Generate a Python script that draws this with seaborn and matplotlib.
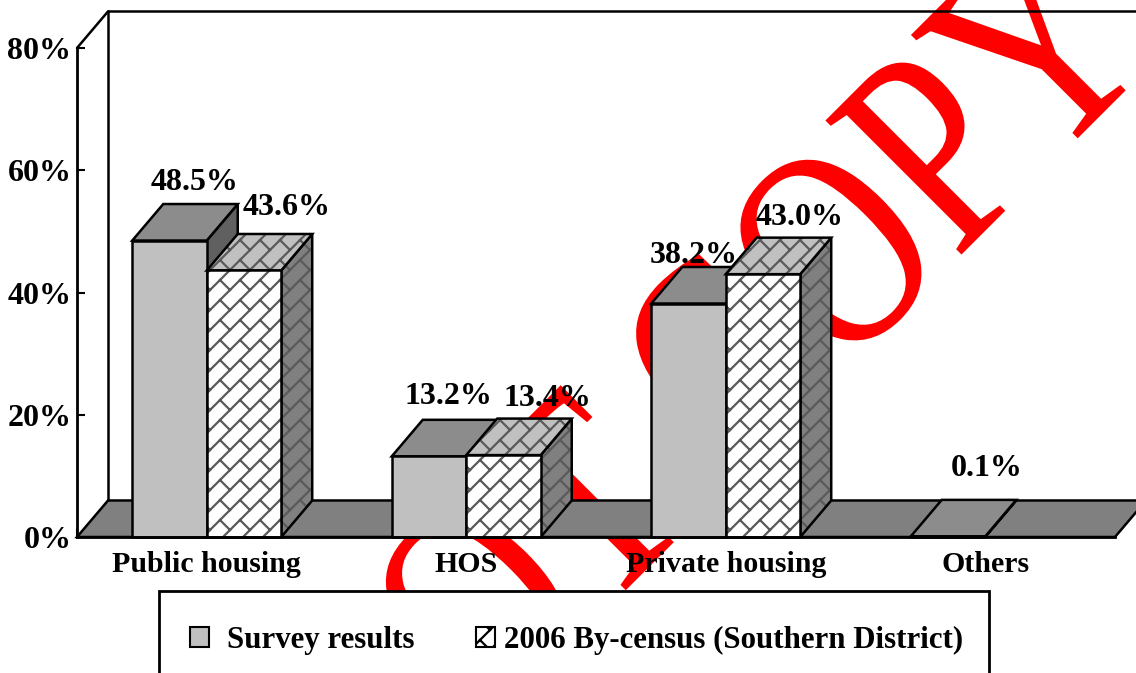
import numpy as np
import pandas as pd
import matplotlib
matplotlib.use("Agg")
import matplotlib.pyplot as plt
import matplotlib.hatch as mhatch
import matplotlib.patheffects as pe
from matplotlib.patches import Patch, Polygon, Rectangle
from matplotlib.path import Path
from matplotlib.transforms import Affine2D
import seaborn as sns

categories = ["Public housing", "HOS", "Private housing", "Others"]
series_names = ["Survey results", "2006 By-census (Southern District)"]
survey = [48.5, 13.2, 38.2, 0.1]
census = [43.6, 13.4, 43.0, None]
y_ticks = [0, 20, 40, 60, 80]
stamp_text = "NOT COPY"


class BrickHatch(mhatch.HatchPatternBase):
    # diagonal brick pattern, long lines plus short cross pieces
    def __init__(self, hatch, density):
        n = 5
        segs = []
        for k in range(-n, n):
            segs.append(((0, k / n), (1, 1 + k / n)))
        for k in range(n):
            for j in range(n):
                t = j / n
                for ox in (-1, 0, 1):
                    for oy in (-1, 0, 1):
                        p = (t + ox, t + k / n + oy)
                        segs.append((p, (p[0] + 0.5 / n, p[1] - 0.5 / n)))
        self.segs = segs if hatch.count("/") > 0 else []
        self.num_vertices = len(self.segs) * 2

    def set_vertices_and_codes(self, vertices, codes):
        for i, (a, b) in enumerate(self.segs):
            vertices[2 * i] = a
            vertices[2 * i + 1] = b
            codes[2 * i] = Path.MOVETO
            codes[2 * i + 1] = Path.LINETO


mhatch._hatch_types[:] = [BrickHatch]


class Squeeze(pe.AbstractPathEffect):
    # the stamp lettering is condensed along its baseline
    def __init__(self, anchor, angle, factor):
        super().__init__()
        self.extra = (Affine2D().translate(-anchor[0], -anchor[1]).rotate_deg(-angle)
                      .scale(factor, 1).rotate_deg(angle).translate(anchor[0], anchor[1]))

    def draw_path(self, renderer, gc, tpath, affine, rgbFace=None):
        renderer.draw_path(gc, tpath, affine + self.extra, rgbFace)


W, H = 1136, 673
sns.set_theme(style="white")
plt.rcParams["font.family"] = ["Liberation Serif", "DejaVu Serif"]
plt.rcParams["font.weight"] = "bold"
plt.rcParams["hatch.linewidth"] = 1.6

df = pd.DataFrame({
    "category": categories * 2,
    "series": [series_names[0]] * 4 + [series_names[1]] * 4,
    "value": survey + census,
})
df["value"] = df["value"].astype(float)

fig = plt.figure(figsize=(W / 100, H / 100), dpi=100)
ax = fig.add_axes([77 / W, 1 - 537 / H, (1115 - 77) / W, (537 - 48) / H])
ax.patch.set_visible(False)

sns.barplot(data=df, x="category", y="value", hue="series", hue_order=series_names,
            order=categories, width=0.574, gap=0, saturation=1, legend=False,
            palette=["#c0c0c0", "white"], errorbar=None, ax=ax)
ax.set_xlim(-0.5, 3.5)
ax.set_ylim(0, 80)
ax.set_xlabel("")
ax.set_ylabel("")

# depth of the fake 3d box, in data units
dx = 31 / 259.5
dy = 36.5 / 6.11


def face(pts, fc, z, hatched=False):
    if hatched:
        ax.add_patch(Polygon(pts, closed=True, facecolor=fc, edgecolor="#5a5a5a", lw=0,
                             hatch="/", zorder=z, clip_on=False))
        fc = "none"
    ax.add_patch(Polygon(pts, closed=True, facecolor=fc, edgecolor="black", lw=1.8,
                         zorder=z, clip_on=False))


# floor and walls
x0, x1 = ax.get_xlim()
face([(x0, 0), (x1, 0), (x1 + dx, dy), (x0 + dx, dy)], "#808080", 1)
ax.plot([x0 + dx, x0 + dx], [dy, 80 + dy], color="black", lw=1.8, clip_on=False, zorder=1)
ax.plot([x0 + dx, x1 + dx], [80 + dy, 80 + dy], color="black", lw=1.8, clip_on=False, zorder=1)
ax.plot([x0, x0 + dx], [80, 80 + dy], color="black", lw=1.8, clip_on=False, zorder=1)

# label offsets from the top of each bar, pixels
offsets = [[(25, 58), (19, 60), (5, 48), (39, 68)],
           [(43, 63), (44, 57), (37, 57), (0, 0)]]

for s, cont in enumerate(ax.containers):
    for bar in cont:
        h = bar.get_height()
        if not np.isfinite(h) or h == 0:
            continue
        l = bar.get_x()
        r = l + bar.get_width()
        cat = int(round((l + r) / 2 + (0.1435 if s == 0 else -0.1435)))
        zb = 5 + cat * 3 + s
        hatched = s == 1
        side = "#808080" if hatched else "#606060"
        top = "#c0c0c0" if hatched else "#8c8c8c"
        face([(r, 0), (r + dx, dy), (r + dx, h + dy), (r, h)], side, zb, hatched)
        face([(l, h), (r, h), (r + dx, h + dy), (l + dx, h + dy)], top, zb, hatched)
        face([(l, 0), (r, 0), (r, h), (l, h)], "white" if hatched else "#c0c0c0", zb, hatched)
        bar.set_visible(False)
        ox, oy = offsets[s][cat]
        ax.annotate(f"{h:.1f}%", ((l + r) / 2, h), xytext=(ox, oy), textcoords="offset pixels",
                    ha="center", va="center", fontsize=23, fontweight="bold", color="black",
                    zorder=50, annotation_clip=False)

ax.set_yticks(y_ticks)
ax.set_yticklabels([f"{t}%" for t in y_ticks])
ax.set_xticks(range(len(categories)))
ax.set_xticklabels(categories)
ax.set_xticks([x0 + i for i in range(5)], minor=True)
ax.tick_params(axis="y", which="major", direction="in", length=6, width=1.5, color="black",
               left=True, labelsize=23, pad=4, labelcolor="black")
ax.tick_params(axis="x", which="major", length=0, labelsize=21.5, pad=10, labelcolor="black")
ax.tick_params(axis="x", which="minor", direction="in", length=6, width=1.5, color="black", bottom=True)
sns.despine(ax=ax, top=True, right=True)
for name in ["left", "bottom"]:
    ax.spines[name].set_color("black")
    ax.spines[name].set_linewidth(2)
    ax.spines[name].set_zorder(40)

# red stamp sits behind the chart
sx, sy = 372, 844
fig.text(sx / W, 1 - sy / H, stamp_text, color="#ff0000", fontsize=210, fontweight="normal",
         rotation=45, rotation_mode="anchor", ha="left", va="baseline", zorder=-1,
         path_effects=[Squeeze((sx, H - sy), 45, 0.77)])

# legend box runs off the bottom of the page
fig.add_artist(Rectangle((159 / W, -0.03), (989 - 159) / W, 1 - 591 / H + 0.03,
                         transform=fig.transFigure, facecolor="white", edgecolor="black",
                         lw=2, zorder=4))
handles = [Patch(facecolor="#c0c0c0", edgecolor="black", lw=1.5, label=series_names[0]),
           Patch(facecolor="white", edgecolor="black", lw=1.5, hatch="/", label=series_names[1])]
leg = fig.legend(handles=handles, loc="upper left", bbox_to_anchor=(190 / W, 1 - 626 / H),
                 borderaxespad=0, ncol=2, fontsize=22.2, frameon=False, borderpad=0,
                 handlelength=0.62, handleheight=0.62, handletextpad=0.58, columnspacing=2.0)
leg.set_zorder(5)
for t in leg.get_texts():
    t.set_color("black")
leg.get_texts()[1].set_position((-9, 0))

fig.savefig("out.png", dpi=100)
